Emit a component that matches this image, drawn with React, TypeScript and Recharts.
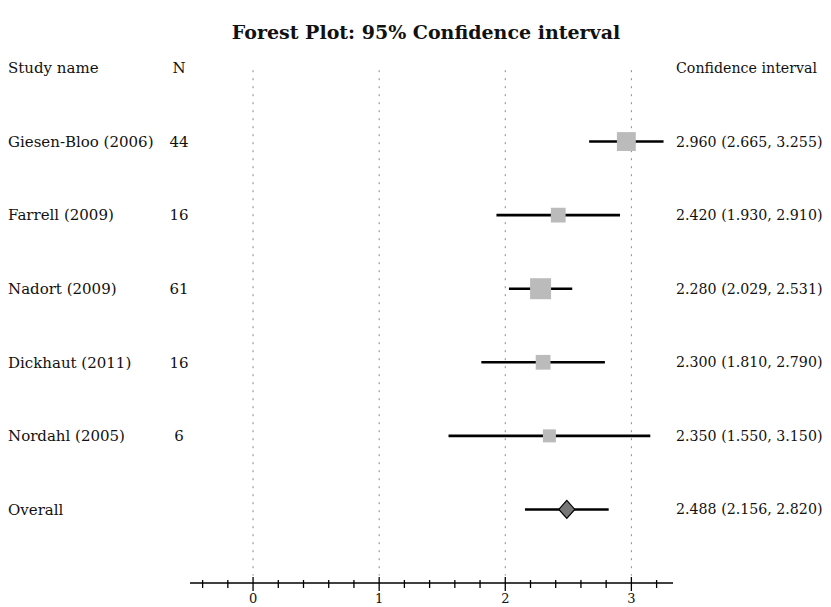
import React from 'react'
import {ScatterChart, Scatter, XAxis, YAxis, ZAxis, ErrorBar, ReferenceLine} from 'recharts'

// study rows, top to bottom
const studies = ['Giesen-Bloo (2006)', 'Farrell (2009)', 'Nadort (2009)', 'Dickhaut (2011)', 'Nordahl (2005)']
const sampleSizes = [44, 16, 61, 16, 6]
const estimates = [2.96, 2.42, 2.28, 2.3, 2.35]
const lowerCI = [2.665, 1.93, 2.029, 1.81, 1.55]
const upperCI = [3.255, 2.91, 2.531, 2.79, 3.15]

const overallLabel = 'Overall'
const overallEstimate = 2.488
const overallLower = 2.156
const overallUpper = 2.82

const axisTicks = [-0.4, -0.2, 0, 0.2, 0.4, 0.6, 0.8, 1, 1.2, 1.4, 1.6, 1.8, 2, 2.2, 2.4, 2.6, 2.8, 3, 3.2]
const gridValues = [0, 1, 2, 3]
const rowTicks = [-1, 0, 1, 2, 3, 4, 5]

const FONT = "'DejaVu Serif', serif"

const fmt = (v: number) => v.toFixed(3)

const studyRows = studies.map((name, i) => ({
  row: i,
  name,
  n: sampleSizes[i],
  x: estimates[i],
  err: [estimates[i] - lowerCI[i], upperCI[i] - estimates[i]],
  ci: `${fmt(estimates[i])} (${fmt(lowerCI[i])}, ${fmt(upperCI[i])})`,
}))

const overallRow = {
  row: studies.length,
  name: overallLabel,
  n: null as number | null,
  x: overallEstimate,
  err: [overallEstimate - overallLower, overallUpper - overallEstimate],
  ci: `${fmt(overallEstimate)} (${fmt(overallLower)}, ${fmt(overallUpper)})`,
}

const allRows = [...studyRows, overallRow]

function LeftTick(props: any) {
  const {y, payload} = props
  const v = payload.value
  const r = allRows.find(d => d.row === v)
  const name = v === -1 ? 'Study name' : r ? r.name : ''
  const n = v === -1 ? 'N' : r && r.n != null ? String(r.n) : ''
  return (
    <g fontFamily={FONT} fontSize={15} fill="#111">
      <text x={0} y={y} dy="0.35em" textAnchor="start">{name}</text>
      <text x={171} y={y} dy="0.35em" textAnchor="middle">{n}</text>
    </g>
  )
}

function RightTick(props: any) {
  const {x, y, payload} = props
  const v = payload.value
  const r = allRows.find(d => d.row === v)
  const label = v === -1 ? 'Confidence interval' : r ? r.ci : ''
  return (
    <text x={x} y={y} dy="0.35em" textAnchor="start" fontFamily={FONT} fontSize={14.2} fill="#111">{label}</text>
  )
}

function XTick(props: any) {
  const {x, y, payload} = props
  const v = payload.value
  const major = Math.abs(v - Math.round(v)) < 1e-9
  return (
    <g>
      <line x1={x} x2={x} y1={major ? y - 6 : y - 3} y2={major ? y + 8 : y + 5} stroke="#000" strokeWidth={1.3} />
      {major && (
        <text x={x} y={y + 20} textAnchor="middle" fontFamily={FONT} fontSize={13} fill="#111">{v}</text>
      )}
    </g>
  )
}

function Square(props: any) {
  const {cx, cy} = props
  const size = props.size ?? Math.PI * Math.pow((props.width || 12) / 2, 2)
  const s = Math.sqrt(size)
  return <rect x={cx - s / 2} y={cy - s / 2} width={s} height={s} fill="#bbbbbb" />
}

function Diamond(props: any) {
  const {cx, cy} = props
  const w = 8
  const h = 9
  return (
    <polygon
      points={`${cx - w},${cy} ${cx},${cy - h} ${cx + w},${cy} ${cx},${cy + h}`}
      fill="#777777"
      stroke="#000"
      strokeWidth={1.2}
    />
  )
}

const Empty = () => <g />

export default function App() {
  return (
    <div style={{position: 'relative', width: 815, height: 599}}>
      <div
        style={{
          position: 'absolute',
          top: 13,
          left: 0,
          width: 836,
          textAlign: 'center',
          fontFamily: FONT,
          fontWeight: 'bold',
          fontSize: 19,
          color: '#111',
        }}
      >
        Forest Plot: 95% Confidence interval
      </div>
      <ScatterChart width={815} height={599} margin={{top: 60, right: 0, bottom: 0, left: 0}}>
        <XAxis
          type="number"
          dataKey="x"
          domain={[-0.5, 3.33]}
          allowDataOverflow
          ticks={axisTicks}
          interval={0}
          tickLine={false}
          tickSize={0}
          tickMargin={0}
          tick={<XTick />}
          height={24}
          axisLine={{stroke: '#000', strokeWidth: 1.3}}
        />
        <YAxis
          yAxisId="left"
          type="number"
          dataKey="row"
          domain={[-1, 6]}
          allowDataOverflow
          reversed
          ticks={rowTicks}
          interval={0}
          width={182}
          axisLine={false}
          tickLine={false}
          tick={<LeftTick />}
        />
        <YAxis
          yAxisId="right"
          orientation="right"
          type="number"
          dataKey="row"
          domain={[-1, 6]}
          allowDataOverflow
          reversed
          ticks={rowTicks}
          interval={0}
          width={150}
          axisLine={false}
          tickLine={false}
          tickSize={0}
          tickMargin={3}
          tick={<RightTick />}
        />
        <ZAxis type="number" dataKey="n" domain={[6, 61]} range={[169, 441]} />
        {gridValues.map(g => (
          <ReferenceLine
            key={g}
            yAxisId="left"
            segment={[{x: g, y: -0.97}, {x: g, y: 5.9}]}
            stroke="#888"
            strokeWidth={1}
            strokeDasharray="2 6"
          />
        ))}
        <Scatter yAxisId="left" data={studyRows} shape={<Square />} isAnimationActive={false} />
        <Scatter yAxisId="left" data={[overallRow]} shape={<Diamond />} isAnimationActive={false} />
        <Scatter yAxisId="right" data={allRows} shape={<Empty />} isAnimationActive={false}>
          <ErrorBar dataKey="err" direction="x" width={0} stroke="#000" strokeWidth={2.6} />
        </Scatter>
      </ScatterChart>
    </div>
  )
}
